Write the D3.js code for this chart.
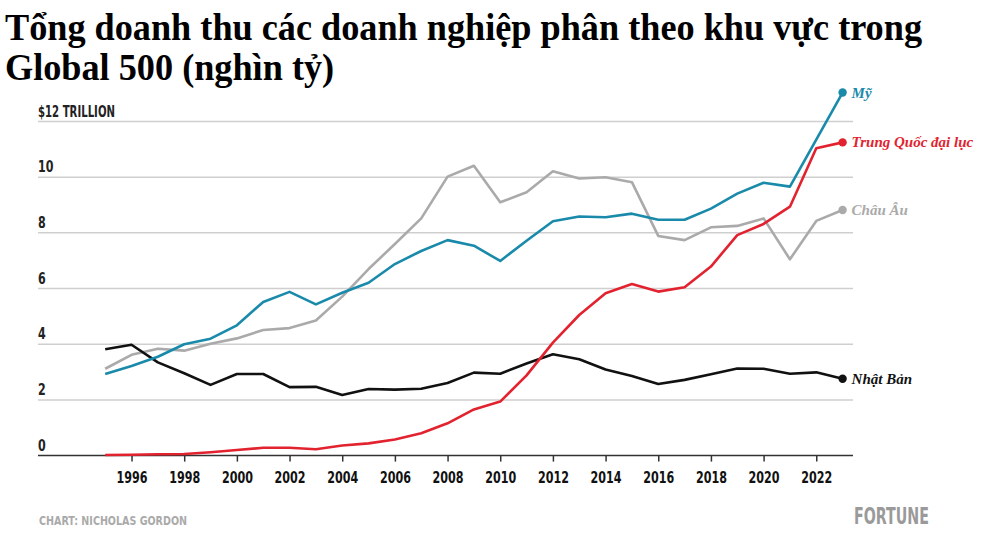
<!DOCTYPE html>
<html><head><meta charset="utf-8">
<script src="https://cdn.jsdelivr.net/npm/d3@7"></script>
<style>
body{margin:0;background:#fff;}
svg{display:block;}
</style></head>
<body>
<svg id="c" width="1000" height="550"></svg>
<script>
const years = d3.range(1995, 2024);
const usa =    [2.93,3.22,3.55,4.00,4.20,4.68,5.52,5.88,5.43,5.85,6.21,6.88,7.35,7.74,7.54,6.99,7.72,8.42,8.59,8.56,8.69,8.47,8.47,8.87,9.41,9.80,9.66,11.35,13.04];
const china =  [0.02,0.03,0.05,0.06,0.12,0.20,0.28,0.28,0.23,0.36,0.44,0.58,0.80,1.16,1.66,1.94,2.88,4.06,5.05,5.83,6.16,5.89,6.05,6.79,7.92,8.32,8.94,11.04,11.25];
const europe = [3.12,3.62,3.84,3.77,4.02,4.21,4.51,4.58,4.85,5.71,6.70,7.60,8.52,10.02,10.41,9.10,9.46,10.21,9.95,10.00,9.82,7.89,7.74,8.20,8.25,8.52,7.05,8.43,8.82];
const japan =  [3.82,3.98,3.35,2.96,2.54,2.93,2.93,2.46,2.47,2.18,2.39,2.37,2.40,2.61,2.98,2.94,3.31,3.64,3.46,3.09,2.86,2.57,2.72,2.92,3.13,3.12,2.94,2.99,2.76];
const seriesNames = ["Mỹ","Trung Quốc đại lục","Châu Âu","Nhật Bản"];
const yTicks = [0,2,4,6,8,10,12];
const yTickLabels = ["0","2","4","6","8","10","$12 TRILLION"];
const xTicks = d3.range(1996, 2023, 2);
const titleLines = ["Tổng doanh thu các doanh nghiệp phân theo khu vực trong","Global 500 (nghìn tỷ)"];

const series = [
  {name:seriesNames[0], values:usa, color:"#1a8aab"},
  {name:seriesNames[1], values:china, color:"#e2232f"},
  {name:seriesNames[2], values:europe, color:"#aaaaaa"},
  {name:seriesNames[3], values:japan, color:"#111111"}
];

const svg = d3.select("#c");
const x = d3.scaleLinear().domain([1995, 2023]).range([105.2, 842.6]);
const y = d3.scaleLinear().domain([0, 12]).range([455.6, 121.5]);
const gridL = 38, gridR = 853;
const condensed = "'Liberation Sans Narrow','DejaVu Sans Condensed','Roboto Condensed',sans-serif";

// Title
const tt = svg.append("g");
const tEls = titleLines.map((t,i)=> tt.append("text").attr("x",5).attr("y", i===0?39.5:80)
    .attr("font-family","'Liberation Serif','Times New Roman',serif")
    .attr("font-weight","bold").attr("font-size",37).attr("fill","#000").text(t));
{
  const w0 = tEls[0].node().getComputedTextLength();
  const k = 917 / w0;
  tEls.forEach(el=>{
    const w = el.node().getComputedTextLength();
    el.attr("textLength", w*k).attr("lengthAdjust","spacingAndGlyphs");
  });
}

// Gridlines
const gy = svg.append("g");
gy.selectAll("line").data(yTicks.filter(d=>d>0)).join("line")
  .attr("x1",gridL).attr("x2",gridR)
  .attr("y1",d=>y(d)).attr("y2",d=>y(d))
  .attr("stroke","#cfcfcf").attr("stroke-width",1.5);
gy.selectAll("text").data(yTicks).join("text")
  .attr("x",gridL).attr("y",d=>y(d)-5)
  .attr("font-family",condensed).attr("font-weight","bold")
  .attr("font-size",15).attr("fill","#222")
  .text((d,i)=>yTickLabels[i])
  .each(function(d){
    const el = d3.select(this);
    const w = this.getComputedTextLength();
    el.attr("textLength", d===12 ? 77 : w*0.82).attr("lengthAdjust","spacingAndGlyphs");
  });

// X axis
const xAxis = d3.axisBottom(x).tickValues(xTicks).tickFormat(d3.format("d")).tickSize(6).tickPadding(11);
const ax = svg.append("g").attr("transform",`translate(0,${y(0)})`).call(xAxis);
ax.select(".domain").remove();
ax.selectAll(".tick line").attr("stroke","#333").attr("stroke-width",1.5);
ax.selectAll(".tick text").attr("font-family",condensed).attr("font-weight","bold")
  .attr("font-size",15).attr("fill","#111")
  .attr("textLength",31).attr("lengthAdjust","spacingAndGlyphs");
svg.append("line").attr("x1",gridL).attr("x2",gridR).attr("y1",y(0)).attr("y2",y(0))
  .attr("stroke","#333").attr("stroke-width",1.5);

// Lines
const line = d3.line().x((d,i)=>x(years[i])).y(d=>y(d));
const order = [2,3,0,1];
order.forEach(k=>{
  const s = series[k];
  svg.append("path").attr("d",line(s.values)).attr("fill","none")
    .attr("stroke",s.color).attr("stroke-width",2.6).attr("stroke-linejoin","round");
  const last = s.values[s.values.length-1];
  svg.append("circle").attr("cx",x(2023)).attr("cy",y(last)).attr("r",4.2).attr("fill",s.color);
  svg.append("text").attr("x",x(2023)+9).attr("y",y(last)+5)
    .attr("font-family","'Liberation Serif','Times New Roman',serif")
    .attr("font-weight","bold").attr("font-style","italic").attr("font-size",15)
    .attr("fill",s.color).text(s.name);
});

// Footer
svg.append("text").attr("x",39).attr("y",525).attr("font-family",condensed)
  .attr("font-weight","bold").attr("font-size",13).attr("fill","#aaa")
  .attr("textLength",148).attr("lengthAdjust","spacingAndGlyphs").text("CHART: NICHOLAS GORDON");
svg.append("text").attr("x",854).attr("y",524).attr("font-family",condensed)
  .attr("font-weight","bold").attr("font-size",23).attr("fill","#9a9a9a")
  .attr("textLength",75).attr("lengthAdjust","spacingAndGlyphs").text("FORTUNE");
</script>
</body></html>
